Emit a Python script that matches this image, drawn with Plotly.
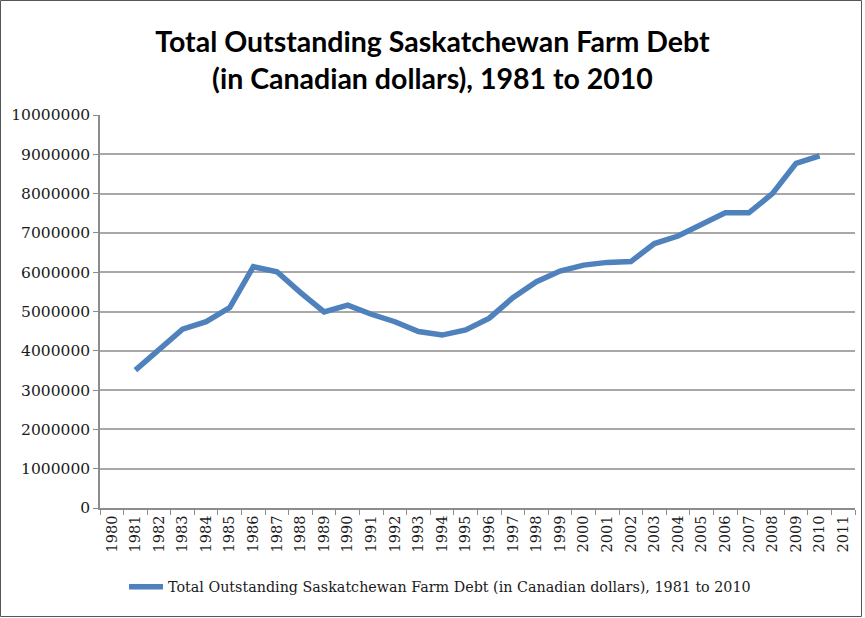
import plotly.graph_objects as go

# Farm debt series (Canadian dollars), 1981-2010
years = [str(y) for y in range(1981, 2011)]
debt = [3510000, 4030000, 4550000, 4740000, 5100000, 6140000, 6010000, 5480000,
        4990000, 5160000, 4930000, 4740000, 4490000, 4400000, 4530000, 4830000,
        5350000, 5760000, 6030000, 6180000, 6250000, 6270000, 6730000, 6920000,
        7230000, 7510000, 7510000, 8000000, 8770000, 8960000]

# Category axis runs one year beyond the data on each side
axis_years = [str(y) for y in range(1980, 2012)]
y_ticks = [0, 1000000, 2000000, 3000000, 4000000, 5000000, 6000000,
           7000000, 8000000, 9000000, 10000000]

series_name = "Total Outstanding Saskatchewan Farm Debt (in Canadian dollars), 1981 to 2010"
title_text = "Total Outstanding Saskatchewan Farm Debt<br>(in Canadian dollars), 1981 to 2010"

W, H = 865, 618
L, R, T, B = 100, 10, 115, 110
pw, ph = W - L - R, H - T - B

fig = go.Figure()
fig.add_trace(go.Scatter(
    x=years, y=debt, mode="lines", name=series_name,
    line=dict(color="#4F81BD", width=5.5),
))

serif = "DejaVu Serif, Liberation Serif, serif"

# frame around the whole chart, expressed in plot-area (paper) fractions
frame_x0 = (0.5 - L) / pw
frame_x1 = (W - 3.5 - L) / pw
frame_y0 = -(H - 1.5 - T - ph) / ph
frame_y1 = 1 + (T - 0.5) / ph

fig.update_layout(
    width=W, height=H,
    margin=dict(l=L, r=R, t=T, b=B),
    paper_bgcolor="white", plot_bgcolor="white",
    title=dict(text=title_text, x=0.5, xanchor="center", y=1 - 52 / H, yanchor="middle",
               font=dict(family="Lato, Arial, sans-serif", size=28.5, color="black", weight="bold")),
    showlegend=True,
    legend=dict(orientation="h", x=(124 - L) / pw, xanchor="left",
                y=-(587 - (T + ph)) / ph, yanchor="middle",
                font=dict(family=serif, size=14.3, color="#1a1a1a"),
                itemwidth=34, bgcolor="rgba(0,0,0,0)"),
    xaxis=dict(type="category", categoryorder="array", categoryarray=axis_years,
               tickvals=axis_years, range=[-0.5, len(axis_years) - 0.5],
               tickson="boundaries", ticks="outside", ticklen=5, tickcolor="#8c8c8c",
               tickangle=-90, showline=True, linecolor="#8c8c8c", linewidth=1.5,
               showgrid=False, tickfont=dict(family=serif, size=14.5, color="#1a1a1a")),
    yaxis=dict(range=[0, 10000000], tickvals=y_ticks, ticktext=[str(v) for v in y_ticks],
               ticks="outside", ticklen=5, tickcolor="#8c8c8c",
               showline=True, linecolor="#8c8c8c", linewidth=1.5,
               showgrid=True, gridcolor="#a8a8a8", gridwidth=1.5, zeroline=False,
               tickfont=dict(family=serif, size=15.5, color="#1a1a1a")),
    shapes=[dict(type="rect", xref="paper", yref="paper",
                 x0=frame_x0, x1=frame_x1, y0=frame_y0, y1=frame_y1,
                 line=dict(color="#555", width=1))],
)

fig.write_html("out.html")
